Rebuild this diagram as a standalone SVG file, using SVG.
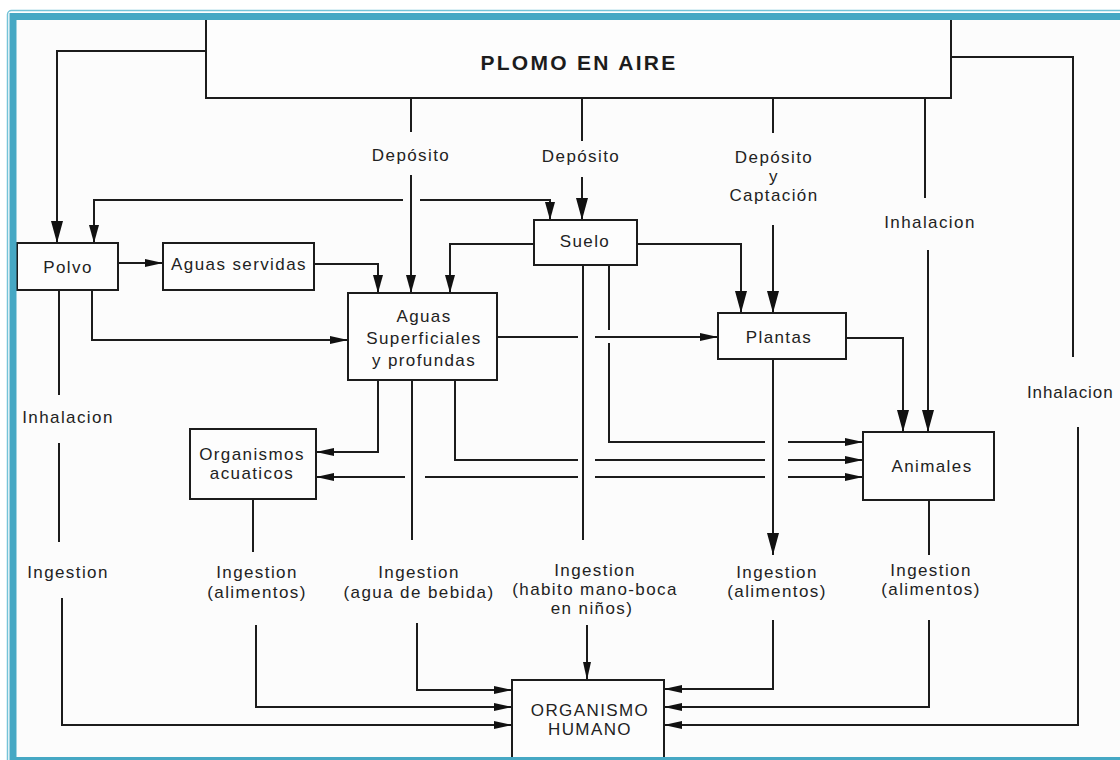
<svg xmlns="http://www.w3.org/2000/svg" width="1120" height="760" viewBox="0 0 1120 760">
  <defs>
    <style>
      .box { fill: #fdfdfd; stroke: #1c1c1c; stroke-width: 2; }
      .ln { fill: none; stroke: #1c1c1c; stroke-width: 2; }
      .t { font-family: "Liberation Sans", Arial, sans-serif; font-size: 17px; letter-spacing: 1.4px; fill: #222222; text-anchor: middle; }
      .title { font-family: "Liberation Sans", Arial, sans-serif; font-size: 21px; font-weight: bold; letter-spacing: 2.3px; fill: #1c1c1c; text-anchor: middle; }
      .big { marker-end: url(#ahBig); }
      .med { marker-end: url(#ahMed); }
      .sm { marker-end: url(#ahSm); }
    </style>
    <marker id="ahBig" markerUnits="userSpaceOnUse" markerWidth="22" markerHeight="12" refX="22" refY="6" orient="auto">
      <path d="M0,0 L22,6 L0,12 Z" fill="#111"/>
    </marker>
    <marker id="ahMed" markerUnits="userSpaceOnUse" markerWidth="18" markerHeight="10" refX="18" refY="5" orient="auto-start-reverse">
      <path d="M0,0 L18,5 L0,10 Z" fill="#111"/>
    </marker>
    <marker id="ahSm" markerUnits="userSpaceOnUse" markerWidth="18" markerHeight="8" refX="18" refY="4" orient="auto-start-reverse">
      <path d="M0,0 L18,4 L0,8 Z" fill="#111"/>
    </marker>
  </defs>

  <!-- page background -->
  <rect x="0" y="0" width="1120" height="760" fill="#ffffff"/>
  <rect x="13" y="16" width="1120" height="744" fill="#fcfcfc"/>

  <g id="connectors">
    <!-- air to dust -->
    <path class="ln big" d="M206,51 H57 V243"/>
    <!-- dust / soil exchange -->
    <path class="ln" d="M94,243 V200 H403 M420,200 H550 V220" marker-start="url(#ahMed)" marker-end="url(#ahMed)"/>
    <!-- deposition -->
    <path class="ln" d="M411,98 V132"/>
    <path class="ln med" d="M411,175 V293"/>
    <text class="t" x="411" y="161">Depósito</text>
    <path class="ln" d="M582,98 V141"/>
    <path class="ln big" d="M582,177 V220"/>
    <text class="t" x="581" y="162">Depósito</text>
    <path class="ln" d="M773,98 V133"/>
    <path class="ln big" d="M773,225 V313"/>
    <text class="t" x="774" y="163">Depósito</text>
    <text class="t" x="774" y="182">y</text>
    <text class="t" x="774" y="201">Captación</text>
    <!-- inhalation by animals -->
    <path class="ln" d="M925,98 V198"/>
    <path class="ln big" d="M928,250 V432"/>
    <text class="t" x="930" y="228">Inhalacion</text>
    <!-- direct inhalation -->
    <path class="ln" d="M951,57 H1073 V357"/>
    <path class="ln sm" d="M1078,427 V725 H664"/>
    <text class="t" x="1027" y="398" style="text-anchor:start;letter-spacing:0.9px">Inhalacion</text>

    <!-- dust routes -->
    <path class="ln sm" d="M118,263 H163"/>
    <path class="ln med" d="M314,264 H378 V293"/>
    <path class="ln sm" d="M92,290 V340 H348"/>
    <path class="ln" d="M59,290 V395"/>
    <text class="t" x="68" y="423">Inhalacion</text>
    <path class="ln" d="M59,443 V542"/>
    <text class="t" x="68" y="578">Ingestion</text>
    <path class="ln sm" d="M62,598 V725 H512"/>

    <!-- soil routes -->
    <path class="ln med" d="M534,244 H450 V293"/>
    <path class="ln big" d="M637,244 H741 V313"/>
    <path class="ln" d="M583,265 V540"/>
    <text class="t" x="595" y="576">Ingestion</text>
    <text class="t" x="595" y="595">(habito mano-boca</text>
    <text class="t" x="592" y="614">en niños)</text>
    <path class="ln sm" d="M587,625 V680"/>
    <path class="ln sm" d="M609,265 V330 M609,343 V442 H765 M788,442 H863"/>

    <!-- water routes -->
    <path class="ln sm" d="M497,337 H578 M595,337 H718"/>
    <path class="ln sm" d="M455,380 V460 H578 M595,460 H765 M788,460 H863"/>
    <path class="ln" d="M863,477 H788 M765,477 H595 M578,477 H425 M405,477 H316" marker-start="url(#ahSm)" marker-end="url(#ahSm)"/>
    <path class="ln sm" d="M378,380 V452 H316"/>
    <path class="ln" d="M412,380 V540"/>
    <text class="t" x="419" y="578">Ingestion</text>
    <text class="t" x="419" y="598">(agua de bebida)</text>
    <path class="ln sm" d="M417,623 V690 H512"/>

    <!-- aquatic organisms -->
    <path class="ln" d="M253,499 V552"/>
    <text class="t" x="257" y="578">Ingestion</text>
    <text class="t" x="257" y="598">(alimentos)</text>
    <path class="ln sm" d="M256,625 V707 H512"/>

    <!-- plants -->
    <path class="ln big" d="M846,338 H903 V432"/>
    <path class="ln big" d="M773,359 V555"/>
    <text class="t" x="777" y="578">Ingestion</text>
    <text class="t" x="777" y="597">(alimentos)</text>
    <path class="ln sm" d="M773,620 V689 H664"/>

    <!-- animals -->
    <path class="ln" d="M929,500 V555"/>
    <text class="t" x="931" y="576">Ingestion</text>
    <text class="t" x="931" y="595">(alimentos)</text>
    <path class="ln sm" d="M929,620 V707 H664"/>
  </g>

  <g id="plomo-en-aire">
    <rect class="box" x="206" y="19" width="745" height="79"/>
    <text class="title" x="579" y="70">PLOMO EN AIRE</text>
  </g>
  <g id="polvo">
    <rect class="box" x="17" y="243" width="101" height="47"/>
    <text class="t" x="68" y="273">Polvo</text>
  </g>
  <g id="aguas-servidas">
    <rect class="box" x="163" y="243" width="151" height="47"/>
    <text class="t" x="239" y="270">Aguas servidas</text>
  </g>
  <g id="suelo">
    <rect class="box" x="534" y="220" width="103" height="45"/>
    <text class="t" x="585" y="247">Suelo</text>
  </g>
  <g id="aguas-superficiales">
    <rect class="box" x="348" y="293" width="149" height="87"/>
    <text class="t" x="424" y="322">Aguas</text>
    <text class="t" x="424" y="344">Superficiales</text>
    <text class="t" x="424" y="366">y profundas</text>
  </g>
  <g id="plantas">
    <rect class="box" x="718" y="313" width="128" height="46"/>
    <text class="t" x="779" y="343">Plantas</text>
  </g>
  <g id="organismos-acuaticos">
    <rect class="box" x="190" y="429" width="126" height="70"/>
    <text class="t" x="252" y="460">Organismos</text>
    <text class="t" x="252" y="479">acuaticos</text>
  </g>
  <g id="animales">
    <rect class="box" x="863" y="432" width="131" height="68"/>
    <text class="t" x="932" y="472">Animales</text>
  </g>
  <g id="organismo-humano">
    <rect class="box" x="512" y="680" width="152" height="90"/>
    <text class="t" x="590" y="716">ORGANISMO</text>
    <text class="t" x="590" y="735">HUMANO</text>
  </g>

  <!-- page frame -->
  <g id="frame" fill="none">
    <rect x="7.5" y="10.5" width="1130" height="760" rx="4" stroke="#74c3d8" stroke-width="1.5"/>
    <rect x="13" y="16.5" width="1120" height="744" stroke="#46a8c4" stroke-width="7"/>
  </g>
</svg>
